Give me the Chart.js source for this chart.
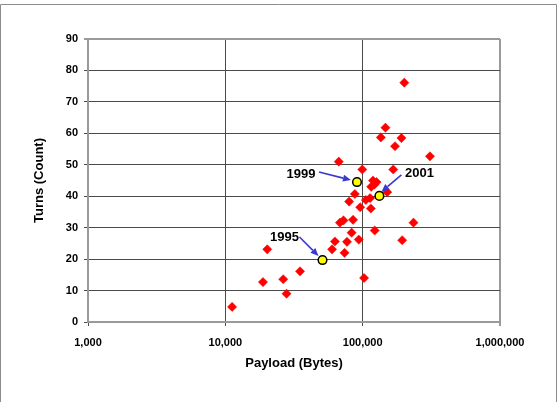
<!DOCTYPE html>
<html>
<head>
<meta charset="utf-8">
<script src="https://cdn.jsdelivr.net/npm/chart.js@4/dist/chart.umd.min.js"></script>
<style>
  html, body { margin: 0; padding: 0; background: #fff; }
  #wrap { width: 558px; height: 402px; }
</style>
</head>
<body>
<div id="wrap"><canvas id="payload-turns" width="558" height="402"></canvas></div>
<script>
// all sites (red diamonds)
let PAYLOAD = [11200, 18800, 20200, 26400, 27900, 35000, 59900, 62800, 67000, 68300,
               72500, 73800, 76900, 79700, 83100, 85100, 87700, 93700, 95900, 99400,
               102400, 105500, 113300, 114700, 115400, 118900, 121700, 122400, 126200, 135600,
               146500, 151000, 167000, 172000, 191500, 194000, 201000, 234500, 309000];
let TURNS = [4.8, 12.7, 23.1, 13.6, 9.0, 16.1, 23.1, 25.6, 51.0, 31.6,
             32.3, 22.0, 25.5, 38.3, 28.4, 32.5, 40.7, 26.2, 36.5, 48.5,
             14.0, 38.8, 39.4, 36.1, 43.0, 45.0, 43.7, 29.1, 44.5, 58.7,
             61.8, 41.3, 48.5, 55.9, 58.5, 26.0, 76.1, 31.6, 52.7];

// highlighted years (yellow circles)
let YEARS = ["1995", "1999", "2001"];
let YEAR_PAYLOAD = [51000, 90900, 132400];
let YEAR_TURNS = [19.7, 44.5, 40.1];

let X_TICKS = [1000, 10000, 100000, 1000000];
let Y_TICKS = [0, 10, 20, 30, 40, 50, 60, 70, 80, 90];

let FONT = "'Liberation Sans', Arial, Helvetica, sans-serif";
let GRID = "#4a4a4a";
let EDGE = "#9a9a9a";
let ARROW = "#3a3ad0";

// label / arrow offsets from each yellow point, in pixels
let NOTE_POS = [
  { text: [-38, -23], from: [-23, -23], to: [-4, -4] },
  { text: [-56, -8], from: [-38, -10], to: [-6, -2] },
  { text: [40, -22], from: [22, -21], to: [2, -4] }
];

const frame = {
  id: "frame",
  beforeDraw(chart) {
    const c = chart.ctx;
    c.save();
    c.fillStyle = "#fff";
    c.fillRect(0, 0, chart.width, chart.height);
    c.strokeStyle = "#8c8c8c";
    c.lineWidth = 1;
    c.beginPath();
    c.moveTo(0.5, chart.height + 2);
    c.lineTo(0.5, 4.5);
    c.lineTo(chart.width - 1.5, 4.5);
    c.lineTo(chart.width - 1.5, chart.height + 2);
    c.stroke();
    c.restore();
  }
};

const notes = {
  id: "notes",
  afterDatasetsDraw(chart) {
    const c = chart.ctx;
    const xs = chart.scales.x, ys = chart.scales.y;
    c.save();
    YEARS.forEach((label, i) => {
      const px = xs.getPixelForValue(YEAR_PAYLOAD[i]);
      const py = ys.getPixelForValue(YEAR_TURNS[i]);
      const p = NOTE_POS[i];
      c.font = "bold 13px " + FONT;
      c.fillStyle = "#000";
      c.textAlign = "center";
      c.textBaseline = "middle";
      c.fillText(label, px + p.text[0], py + p.text[1]);
      const x0 = px + p.from[0], y0 = py + p.from[1];
      const x1 = px + p.to[0], y1 = py + p.to[1];
      const a = Math.atan2(y1 - y0, x1 - x0);
      const hl = 8, hw = 3.5;
      const bx = x1 - hl * Math.cos(a), by = y1 - hl * Math.sin(a);
      c.strokeStyle = ARROW;
      c.fillStyle = ARROW;
      c.lineWidth = 1.6;
      c.beginPath();
      c.moveTo(x0, y0);
      c.lineTo(bx, by);
      c.stroke();
      c.beginPath();
      c.moveTo(x1, y1);
      c.lineTo(bx + hw * Math.sin(a), by - hw * Math.cos(a));
      c.lineTo(bx - hw * Math.sin(a), by + hw * Math.cos(a));
      c.closePath();
      c.fill();
    });
    c.restore();
  }
};

new Chart(document.getElementById("payload-turns"), {
  type: "scatter",
  data: {
    datasets: [{
      label: "Years",
      data: YEAR_PAYLOAD.map((x, i) => ({ x: x, y: YEAR_TURNS[i] })),
      pointStyle: "circle",
      pointRadius: 4.3,
      pointBackgroundColor: "#ffff00",
      pointBorderColor: "#000",
      pointBorderWidth: 1.5,
      order: 0
    }, {
      label: "Sites",
      data: PAYLOAD.map((x, i) => ({ x: x, y: TURNS[i] })),
      pointStyle: "rectRot",
      pointRadius: 4.6,
      pointBackgroundColor: "#ff0000",
      pointBorderColor: "#ff0000",
      pointBorderWidth: 0.5,
      order: 1
    }]
  },
  options: {
    responsive: false,
    animation: false,
    devicePixelRatio: 1,
    layout: { padding: { top: 39, right: 58, bottom: 0, left: 0 } },
    plugins: {
      legend: { display: false },
      tooltip: { enabled: false }
    },
    scales: {
      x: {
        type: "logarithmic",
        min: 1000,
        max: 1000000,
        afterBuildTicks: s => { s.ticks = X_TICKS.map(v => ({ value: v })); },
        afterFit: s => { s.height = 80; },
        ticks: {
          autoSkip: false,
          maxRotation: 0,
          padding: 10,
          color: "#000",
          font: { family: FONT, size: 11, weight: "bold" },
          callback: v => Number(v).toLocaleString("en-US")
        },
        grid: {
          color: c => (c.tick && c.tick.value === 1000000) ? EDGE : GRID,
          lineWidth: c => (c.tick && c.tick.value === 1000000) ? 2 : 1,
          tickLength: 4
        },
        border: { color: EDGE, width: 2 },
        title: {
          display: true,
          text: "Payload (Bytes)",
          color: "#000",
          font: { family: FONT, size: 13, weight: "bold" },
          padding: { top: 0, bottom: 31 }
        }
      },
      y: {
        min: 0,
        max: 90,
        afterBuildTicks: s => { s.ticks = Y_TICKS.map(v => ({ value: v })); },
        afterFit: s => { s.width = 88; },
        ticks: {
          padding: 6,
          color: "#000",
          font: { family: FONT, size: 11, weight: "bold" }
        },
        grid: {
          color: c => (c.tick && c.tick.value === 90) ? EDGE : GRID,
          lineWidth: c => (c.tick && c.tick.value === 90) ? 2 : 1,
          tickLength: 4
        },
        border: { color: EDGE, width: 2 },
        title: {
          display: true,
          text: "Turns (Count)",
          color: "#000",
          font: { family: FONT, size: 13, weight: "bold" },
          padding: { top: 32, bottom: 0 }
        }
      }
    }
  },
  plugins: [frame, notes]
});
</script>
</body>
</html>
